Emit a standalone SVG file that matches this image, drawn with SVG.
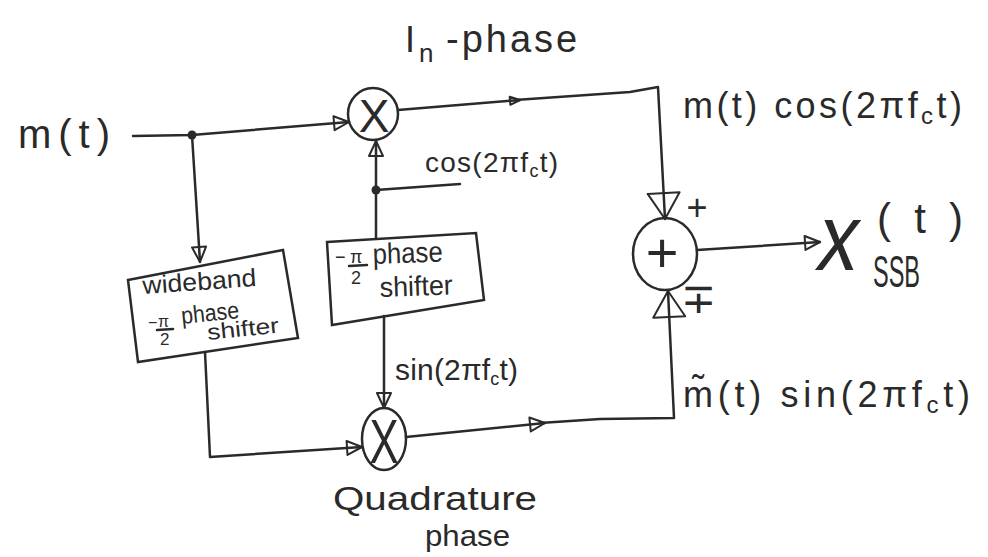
<svg xmlns="http://www.w3.org/2000/svg" width="988" height="557" viewBox="0 0 988 557">
<defs>
<style>
.t{font-family:"Liberation Sans",Arial,sans-serif;fill:#2a2a2a}
.ln{fill:none;stroke:#2a2a2a;stroke-width:2.5;stroke-linejoin:round;stroke-linecap:round}
.nd{fill:none;stroke:#2a2a2a;stroke-width:2.5}
.hd{fill:none;stroke:#2a2a2a;stroke-width:2;stroke-linejoin:round}
</style>
<marker id="a" markerUnits="userSpaceOnUse" markerWidth="20" markerHeight="18" refX="16" refY="8" orient="auto" overflow="visible"><path class="hd" d="M1,1 L16,8 L1,15 Z"/></marker>
<marker id="b" markerUnits="userSpaceOnUse" markerWidth="30" markerHeight="36" refX="27" refY="17" orient="auto" overflow="visible"><path class="hd" d="M1,1 L27,17 L1,33 Z"/></marker>
<marker id="s" markerUnits="userSpaceOnUse" markerWidth="14" markerHeight="12" refX="11" refY="5" orient="auto" overflow="visible"><path class="hd" d="M1,1 L11,5 L1,9 Z"/></marker>
</defs>
<rect width="988" height="557" fill="#ffffff"/>

<g id="connectors">
<path class="ln" d="M133,136 L192,135 L349,122" marker-end="url(#a)"/>
<path class="ln" d="M192,135 L200,262" marker-end="url(#a)"/>
<path class="ln" d="M205,352 L210,457 L362,447" marker-end="url(#a)"/>
<path class="ln" d="M376,238 L376,141" marker-end="url(#a)"/>
<path class="ln" d="M376,190 L460,184"/>
<path class="ln" d="M384,316 L384,408" marker-end="url(#a)"/>
<path class="ln" d="M398,110 L520,100" marker-end="url(#s)"/>
<path class="ln" d="M515,100 L630,92 L658,87 L665,219" marker-end="url(#b)"/>
<path class="ln" d="M697,250 L820,242" marker-end="url(#a)"/>
<path class="ln" d="M406,437 L545,423" marker-end="url(#a)"/>
<path class="ln" d="M540,423 L600,419 L674,418 L668,291" marker-end="url(#b)"/>
<circle cx="192" cy="135" r="4.5" fill="#2a2a2a"/>
<circle cx="376" cy="190" r="4.5" fill="#2a2a2a"/>
</g>

<g id="mult1">
<ellipse class="nd" cx="373" cy="114" rx="25" ry="26"/>
<text class="t" x="374" y="132" font-size="46" text-anchor="middle">X</text>
</g>

<g id="mult2">
<ellipse class="nd" cx="384" cy="439" rx="22" ry="31"/>
<text class="t" transform="translate(384,463) scale(0.95,1.35)" font-size="46" text-anchor="middle">X</text>
</g>

<g id="summer">
<ellipse class="nd" cx="665" cy="254" rx="32" ry="36"/>
<text class="t" x="662" y="272" font-size="56" text-anchor="middle">+</text>
<text class="t" x="697" y="220" font-size="36" text-anchor="middle">+</text>
<text class="t" x="698" y="313" font-size="42" text-anchor="middle" font-family="'DejaVu Sans',sans-serif">∓</text>
</g>

<g id="wideband-shifter">
<path class="nd" d="M128,280 L283,250 L298,338 L138,362 Z"/>
<text class="t" x="143" y="294" font-size="25" textLength="114" lengthAdjust="spacingAndGlyphs" transform="rotate(-4,143,294)">wideband</text>
<text class="t" x="148" y="328" font-size="16">−</text>
<text class="t" x="158" y="327" font-size="16">π</text>
<path class="ln" d="M157,330 L173,329" stroke-width="2"/>
<text class="t" x="160" y="345" font-size="17">2</text>
<text class="t" x="182" y="324" font-size="24" textLength="58" lengthAdjust="spacingAndGlyphs" transform="rotate(-6,182,324)">phase</text>
<text class="t" x="208" y="340" font-size="22" textLength="72" lengthAdjust="spacingAndGlyphs" transform="rotate(-6,208,340)">shifter</text>
</g>

<g id="carrier-shifter">
<path class="nd" d="M327,242 L476,233 L484,300 L332,325 Z"/>
<text class="t" x="335" y="263" font-size="18">−</text>
<text class="t" x="350" y="263" font-size="18">π</text>
<path class="ln" d="M349,266 L367,265" stroke-width="2"/>
<text class="t" x="351" y="284" font-size="18">2</text>
<text class="t" x="373" y="264" font-size="29" textLength="70" lengthAdjust="spacingAndGlyphs" transform="rotate(-2,373,264)">phase</text>
<text class="t" x="380" y="297" font-size="28" textLength="73" lengthAdjust="spacingAndGlyphs" transform="rotate(-2,380,297)">shifter</text>
</g>

<g id="labels">
<text class="t" x="18" y="148" font-size="40" textLength="92" lengthAdjust="spacing">m(t)</text>
<text class="t" y="52"><tspan x="405" font-size="36">I</tspan><tspan x="419" y="62" font-size="26">n</tspan><tspan x="446" y="52" font-size="38" letter-spacing="3">-phase</tspan></text>
<text class="t" x="425" y="172" font-size="28" textLength="133" lengthAdjust="spacing">cos(2πf<tspan font-size="18" dy="5">c</tspan><tspan dy="-5">t)</tspan></text>
<text class="t" x="683" y="118" font-size="36" textLength="279" lengthAdjust="spacing">m(t) cos(2πf<tspan font-size="24" dy="6">c</tspan><tspan dy="-6">t)</tspan></text>
<text class="t" x="395" y="380" font-size="30" textLength="123" lengthAdjust="spacing">sin(2πf<tspan font-size="18" dy="5">c</tspan><tspan dy="-5">t)</tspan></text>
<text class="t" x="683" y="407" font-size="36" textLength="287" lengthAdjust="spacing">m̃(t) sin(2πf<tspan font-size="24" dy="6">c</tspan><tspan dy="-6">t)</tspan></text>
<text class="t" x="333" y="510" font-size="34" textLength="204" lengthAdjust="spacingAndGlyphs">Quadrature</text>
<text class="t" x="425" y="546" font-size="30" textLength="85" lengthAdjust="spacingAndGlyphs">phase</text>
<text class="t" transform="translate(814,270) skewX(-10) scale(1.15,1.35)" font-size="70">x</text>
<text class="t" x="873" y="287" font-size="44" textLength="47" lengthAdjust="spacingAndGlyphs">SSB</text>
<text class="t" x="877" y="233" font-size="42" textLength="86" lengthAdjust="spacing">(t)</text>
</g>
</svg>
